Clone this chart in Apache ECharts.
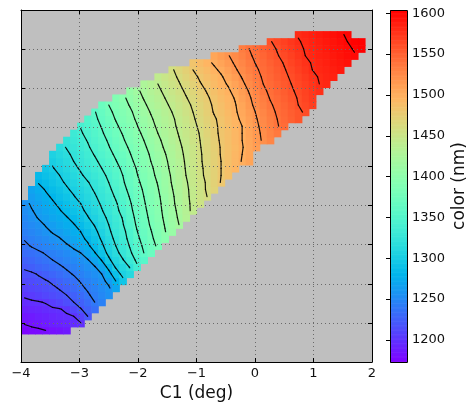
<!DOCTYPE html>
<html><head><meta charset="utf-8">
<script src="https://cdn.jsdelivr.net/npm/echarts@6/dist/echarts.min.js"></script>
<style>html,body{margin:0;padding:0;background:#fff}#c{width:468px;height:402px}</style>
</head><body><div id="c"></div>
<script>
// grid geometry of the sampled field
const c1Min = -4, c1Step = 0.12;   // C1 (deg) cell width
const yMin = 0, yStep = 0.18;      // vertical (unlabelled) cell height
const xTicks = [-4, -3, -2, -1, 0, 1, 2];
const colorbarTicks = [1200, 1250, 1300, 1350, 1400, 1450, 1500, 1550, 1600];
const colorMin = 1173, colorMax = 1604;
const contourLevels = [1180,1200,1220,1240,1260,1280,1300,1320,1340,1360,1380,1400,1420,1440,1460,1480,1500,1520,1540,1560,1580,1600];

// rows of the field (row index, first column, values in nm)
const rowIndex = [4,5,6,7,8,9,10,11,12,13,14,15,16,17,18,19,20,21,22,23,24,25,26,27,28,29,30,31,32,33,34,35,36,37,38,39,40,41,42,43,44,45,46];
const rowFirstCol = [0,0,0,0,0,0,0,0,0,0,0,0,0,0,0,0,0,0,0,1,1,2,2,3,4,4,5,6,7,8,9,10,11,13,15,17,19,21,24,27,31,35,39];
const colorNm = [
[1175,1177,1178,1180,1182,1184,1187],
[1181,1183,1185,1188,1190,1192,1194,1197,1199],
[1185,1187,1190,1192,1194,1196,1198,1200,1209,1220],
[1191,1193,1194,1196,1198,1199,1203,1211,1219,1227,1235],
[1197,1198,1199,1201,1206,1210,1215,1220,1226,1233,1240,1246],
[1202,1205,1208,1211,1214,1217,1220,1226,1232,1238,1244,1250,1256],
[1207,1210,1212,1215,1218,1221,1226,1232,1237,1242,1247,1253,1258,1270],
[1212,1214,1217,1219,1222,1227,1232,1236,1241,1246,1251,1256,1264,1280,1295],
[1217,1218,1221,1225,1229,1233,1237,1241,1246,1251,1255,1260,1274,1291,1305,1313],
[1222,1225,1229,1232,1235,1238,1242,1246,1250,1255,1259,1270,1285,1302,1311,1321,1337],
[1227,1230,1234,1237,1240,1244,1248,1251,1255,1259,1269,1281,1297,1309,1319,1331,1343,1354],
[1233,1235,1238,1241,1245,1248,1252,1256,1260,1269,1279,1292,1304,1315,1326,1337,1349,1360,1370],
[1237,1241,1244,1248,1251,1254,1258,1263,1270,1277,1287,1297,1309,1320,1330,1341,1352,1363,1373,1383],
[1241,1245,1249,1252,1256,1259,1265,1270,1276,1283,1292,1302,1313,1324,1334,1344,1356,1366,1376,1387,1397],
[1245,1249,1253,1257,1261,1265,1270,1275,1280,1288,1296,1306,1317,1327,1336,1346,1359,1369,1379,1389,1399,1409],
[1248,1252,1256,1261,1265,1270,1275,1279,1286,1294,1301,1311,1320,1330,1339,1350,1362,1372,1382,1391,1401,1411,1420],
[1251,1256,1261,1265,1270,1274,1279,1285,1292,1299,1306,1315,1323,1332,1341,1353,1364,1374,1384,1393,1403,1413,1422,1433],
[1254,1259,1264,1269,1274,1279,1285,1291,1297,1303,1311,1319,1327,1336,1345,1356,1366,1376,1386,1395,1404,1414,1424,1434,1444],
[1256,1262,1267,1273,1278,1283,1289,1295,1300,1308,1315,1322,1330,1338,1348,1358,1368,1378,1388,1396,1405,1416,1426,1435,1444,1453],
[1265,1271,1277,1282,1288,1293,1299,1305,1312,1318,1326,1333,1342,1351,1361,1371,1380,1389,1397,1407,1417,1427,1436,1445,1453,1460],
[1269,1275,1281,1287,1292,1298,1303,1309,1315,1322,1329,1337,1345,1355,1364,1373,1382,1391,1399,1409,1419,1428,1437,1445,1453,1462,1470],
[1281,1286,1292,1297,1302,1308,1314,1319,1325,1333,1340,1348,1358,1367,1376,1385,1393,1401,1411,1421,1429,1438,1447,1454,1462,1472,1481],
[1285,1290,1295,1300,1306,1312,1318,1324,1330,1336,1343,1352,1360,1369,1379,1387,1395,1404,1413,1422,1431,1440,1448,1456,1464,1472,1480,1487],
[1294,1299,1304,1310,1316,1322,1328,1334,1340,1347,1355,1363,1372,1381,1390,1397,1406,1415,1424,1432,1441,1449,1457,1464,1472,1480,1488,1495],
[1302,1308,1314,1320,1326,1332,1337,1344,1351,1359,1367,1376,1384,1392,1400,1408,1417,1425,1433,1442,1450,1458,1465,1473,1480,1487,1494,1501,1508],
[1306,1312,1317,1323,1329,1335,1341,1348,1355,1363,1370,1379,1387,1394,1402,1410,1419,1427,1435,1443,1451,1458,1466,1473,1481,1487,1494,1500,1507],
[1315,1321,1326,1333,1338,1345,1352,1359,1367,1375,1382,1390,1397,1405,1414,1422,1429,1437,1444,1451,1459,1467,1474,1481,1487,1493,1499,1506,1513],
[1324,1330,1335,1341,1348,1355,1362,1370,1378,1386,1393,1400,1408,1417,1424,1432,1439,1446,1453,1460,1467,1475,1482,1488,1494,1500,1507,1515,1522,1528],
[1332,1338,1345,1351,1358,1366,1374,1381,1389,1396,1403,1412,1420,1427,1434,1441,1448,1454,1461,1469,1476,1483,1488,1494,1500,1508,1516,1523,1530,1536],
[1341,1348,1354,1361,1369,1377,1385,1391,1399,1407,1415,1423,1429,1436,1443,1449,1456,1463,1470,1477,1483,1489,1495,1500,1509,1517,1525,1532,1539,1544],
[1350,1357,1364,1372,1381,1388,1395,1402,1410,1418,1425,1431,1437,1445,1451,1458,1465,1472,1478,1484,1490,1496,1503,1511,1519,1526,1533,1540,1546,1551,1557],
[1359,1367,1376,1384,1391,1397,1405,1414,1421,1428,1434,1440,1447,1454,1460,1467,1474,1481,1486,1492,1498,1505,1513,1521,1528,1535,1542,1547,1552,1557,1562],
[1371,1380,1387,1394,1401,1409,1417,1425,1431,1437,1443,1450,1456,1462,1469,1476,1482,1488,1494,1499,1507,1516,1524,1531,1538,1544,1549,1554,1560,1565,1570],
[1390,1397,1404,1413,1421,1428,1434,1440,1446,1452,1459,1465,1472,1478,1484,1490,1495,1501,1510,1518,1526,1533,1541,1546,1551,1556,1561,1567,1572],
[1408,1417,1424,1431,1437,1443,1450,1456,1462,1468,1475,1481,1487,1493,1498,1504,1513,1521,1529,1537,1543,1548,1553,1558,1563,1568,1573,1578],
[1427,1434,1440,1446,1453,1459,1465,1472,1479,1484,1491,1497,1501,1509,1517,1525,1532,1540,1545,1550,1555,1560,1565,1570,1575,1580,1583],
[1443,1450,1456,1462,1469,1476,1482,1488,1493,1498,1506,1513,1521,1528,1535,1542,1547,1552,1557,1562,1567,1572,1577,1581,1584,1586],
[1458,1466,1473,1480,1486,1491,1497,1503,1510,1518,1525,1532,1538,1544,1549,1554,1559,1564,1570,1575,1580,1583,1585,1588,1591],
[1484,1490,1496,1502,1508,1515,1522,1528,1535,1541,1546,1551,1556,1561,1567,1572,1577,1581,1584,1587,1590,1592,1595],
[1507,1513,1519,1525,1531,1538,1543,1548,1554,1559,1564,1569,1575,1580,1583,1586,1588,1591,1594,1597,1599],
[1534,1540,1545,1551,1556,1561,1567,1572,1577,1581,1584,1587,1590,1593,1595,1598,1601,1604],
[1559,1564,1569,1574,1579,1582,1585,1588,1591,1594,1597,1600,1603,1604],
[1581,1584,1587,1590,1593,1596,1599,1601]
];

// matplotlib "rainbow" colormap
function rainbow(v) {
  let t = (v - colorMin) / (colorMax - colorMin);
  t = Math.max(0, Math.min(1, t));
  const r = Math.min(1, Math.abs(2 * t - 0.5));
  const g = Math.sin(Math.PI * t);
  const b = Math.cos(Math.PI * t / 2);
  return 'rgb(' + Math.round(r * 255) + ',' + Math.round(g * 255) + ',' + Math.round(b * 255) + ')';
}

// build cells and a lookup grid
const cells = [];
const grid = {};
rowIndex.forEach((r, i) => {
  colorNm[i].forEach((v, j) => {
    const c = rowFirstCol[i] + j;
    const x0 = c1Min + c * c1Step, y0 = yMin + r * yStep;
    cells.push([x0, x0 + c1Step, y0, y0 + yStep, v]);
    grid[r + ',' + c] = v;
  });
});
function gv(r, c) { const v = grid[r + ',' + c]; return v === undefined ? null : v; }
function cx(c) { return c1Min + (c + 0.5) * c1Step; }
function cy(r) { return yMin + (r + 0.5) * yStep; }

// marching squares on cell centres
const segs = [];
for (let r = 0; r < 50; r++) {
  for (let c = 0; c < 50; c++) {
    const a = gv(r, c), b = gv(r, c + 1), cc = gv(r + 1, c + 1), d = gv(r + 1, c);
    if (a === null || b === null || cc === null || d === null) continue;
    const P = [[cx(c), cy(r), a], [cx(c + 1), cy(r), b], [cx(c + 1), cy(r + 1), cc], [cx(c), cy(r + 1), d]];
    contourLevels.forEach(L => {
      const pts = [];
      for (let e = 0; e < 4; e++) {
        const p = P[e], q = P[(e + 1) % 4];
        if ((p[2] >= L) !== (q[2] >= L)) {
          const t = (L - p[2]) / (q[2] - p[2]);
          pts[e] = [p[0] + t * (q[0] - p[0]), p[1] + t * (q[1] - p[1])];
        }
      }
      const idx = [0, 1, 2, 3].filter(e => pts[e]);
      if (idx.length === 2) {
        segs.push([pts[idx[0]][0], pts[idx[0]][1], pts[idx[1]][0], pts[idx[1]][1]]);
      } else if (idx.length === 4) {
        const m = (a + b + cc + d) / 4;
        if ((a >= L) === (m >= L)) {
          segs.push([pts[0][0], pts[0][1], pts[1][0], pts[1][1]]);
          segs.push([pts[2][0], pts[2][1], pts[3][0], pts[3][1]]);
        } else {
          segs.push([pts[3][0], pts[3][1], pts[0][0], pts[0][1]]);
          segs.push([pts[1][0], pts[1][1], pts[2][0], pts[2][1]]);
        }
      }
    });
  }
}

// colorbar strips
const cbar = [];
for (let v = colorMin; v < colorMax; v += 1) cbar.push([0, 1, v, Math.min(v + 1, colorMax), v + 0.5]);

const font = 'DejaVu Sans';
const chart = echarts.init(document.getElementById('c'), null, { renderer: 'canvas' });
const dotted = { color: '#6a6a6a', width: 1, type: [1, 3] };
chart.setOption({
  animation: false,
  backgroundColor: '#ffffff',
  grid: [
    { left: 21, top: 10, width: 351, height: 352, show: true, backgroundColor: '#bfbfbf', borderWidth: 0,
      outerBoundsMode: 'none', containLabel: false },
    { left: 390, top: 10, width: 17, height: 352, show: false, outerBoundsMode: 'none', containLabel: false }
  ],
  xAxis: [
    { type: 'value', gridIndex: 0, min: -4, max: 2, interval: 1, position: 'bottom', z: 5,
      axisLine: { show: true, onZero: false, lineStyle: { color: '#000', width: 1 } },
      axisTick: { show: true, inside: true, length: 4, lineStyle: { color: '#000' } },
      axisLabel: { show: true, margin: 5, color: '#111', fontFamily: font, fontSize: 13,
        formatter: v => (v < 0 ? '\u2212' + Math.abs(v) : String(v)) },
      splitLine: { show: true, lineStyle: dotted },
      name: 'C1 (deg)', nameLocation: 'middle', nameGap: 22,
      nameTextStyle: { color: '#111', fontFamily: font, fontSize: 17 } },
    { type: 'value', gridIndex: 0, min: -4, max: 2, interval: 1, position: 'top', z: 5,
      axisLine: { show: true, onZero: false, lineStyle: { color: '#000', width: 1 } },
      axisTick: { show: true, inside: true, length: 4, lineStyle: { color: '#000' } },
      axisLabel: { show: false }, splitLine: { show: false } },
    { type: 'value', gridIndex: 1, min: 0, max: 1, show: false }
  ],
  yAxis: [
    { type: 'value', gridIndex: 0, min: 0, max: 9, interval: 1, position: 'left', z: 5,
      axisLine: { show: true, onZero: false, lineStyle: { color: '#000', width: 1 } },
      axisTick: { show: true, inside: true, length: 4, lineStyle: { color: '#000' } },
      axisLabel: { show: false },
      splitLine: { show: true, lineStyle: dotted } },
    { type: 'value', gridIndex: 0, min: 0, max: 9, interval: 1, position: 'right', z: 5,
      axisLine: { show: true, onZero: false, lineStyle: { color: '#000', width: 1 } },
      axisTick: { show: true, inside: true, length: 4, lineStyle: { color: '#000' } },
      axisLabel: { show: false }, splitLine: { show: false } },
    { type: 'value', gridIndex: 1, min: colorMin, max: colorMax, position: 'right', z: 5,
      axisLine: { show: false },
      axisTick: { show: true, inside: true, length: 4, customValues: colorbarTicks, lineStyle: { color: '#000' } },
      axisLabel: { show: true, margin: 5, color: '#111', fontFamily: font, fontSize: 13,
        customValues: colorbarTicks, formatter: v => String(v) },
      splitLine: { show: false },
      name: 'color (nm)', nameLocation: 'middle', nameRotate: 90, nameGap: 44,
      nameTextStyle: { color: '#111', fontFamily: font, fontSize: 17 } }
  ],
  series: [
    { type: 'custom', name: 'color', xAxisIndex: 0, yAxisIndex: 0, z: 2, clip: true, progressive: 0,
      data: cells, encode: { x: [0, 1], y: [2, 3] },
      renderItem: (params, api) => {
        const p0 = api.coord([api.value(0), api.value(2)]);
        const p1 = api.coord([api.value(1), api.value(3)]);
        const col = rainbow(api.value(4));
        return { type: 'rect', shape: { x: p0[0], y: p1[1], width: p1[0] - p0[0] + 0.6, height: p0[1] - p1[1] + 0.6 },
          style: { fill: col }, silent: true };
      } },
    { type: 'custom', name: 'contours', xAxisIndex: 0, yAxisIndex: 0, z: 3, clip: true, progressive: 0,
      data: segs, encode: { x: [0, 2], y: [1, 3] },
      renderItem: (params, api) => {
        const p = api.coord([api.value(0), api.value(1)]);
        const q = api.coord([api.value(2), api.value(3)]);
        return { type: 'line', shape: { x1: p[0], y1: p[1], x2: q[0], y2: q[1] },
          style: { stroke: 'rgba(0,0,0,0.9)', lineWidth: 1.2, lineCap: 'round' }, silent: true };
      } },
    { type: 'custom', name: 'colorbar', xAxisIndex: 2, yAxisIndex: 2, z: 2, progressive: 0,
      data: cbar, encode: { x: [0, 1], y: [2, 3] },
      renderItem: (params, api) => {
        const p0 = api.coord([api.value(0), api.value(2)]);
        const p1 = api.coord([api.value(1), api.value(3)]);
        return { type: 'rect', shape: { x: p0[0], y: p1[1], width: p1[0] - p0[0], height: p0[1] - p1[1] + 0.6 },
          style: { fill: rainbow(api.value(4)) }, silent: true };
      } },
    { type: 'custom', name: 'colorbarFrame', xAxisIndex: 2, yAxisIndex: 2, z: 6, progressive: 0,
      data: [[0, 1, colorMin, colorMax]], encode: { x: [0, 1], y: [2, 3] },
      renderItem: (params, api) => {
        const p0 = api.coord([api.value(0), api.value(2)]);
        const p1 = api.coord([api.value(1), api.value(3)]);
        return { type: 'rect', shape: { x: Math.round(p0[0]) + 0.5, y: Math.round(p1[1]) + 0.5,
          width: Math.round(p1[0] - p0[0]), height: Math.round(p0[1] - p1[1]) },
          style: { fill: null, stroke: '#000', lineWidth: 1 }, silent: true };
      } }
  ]
});
</script>
</body></html>
